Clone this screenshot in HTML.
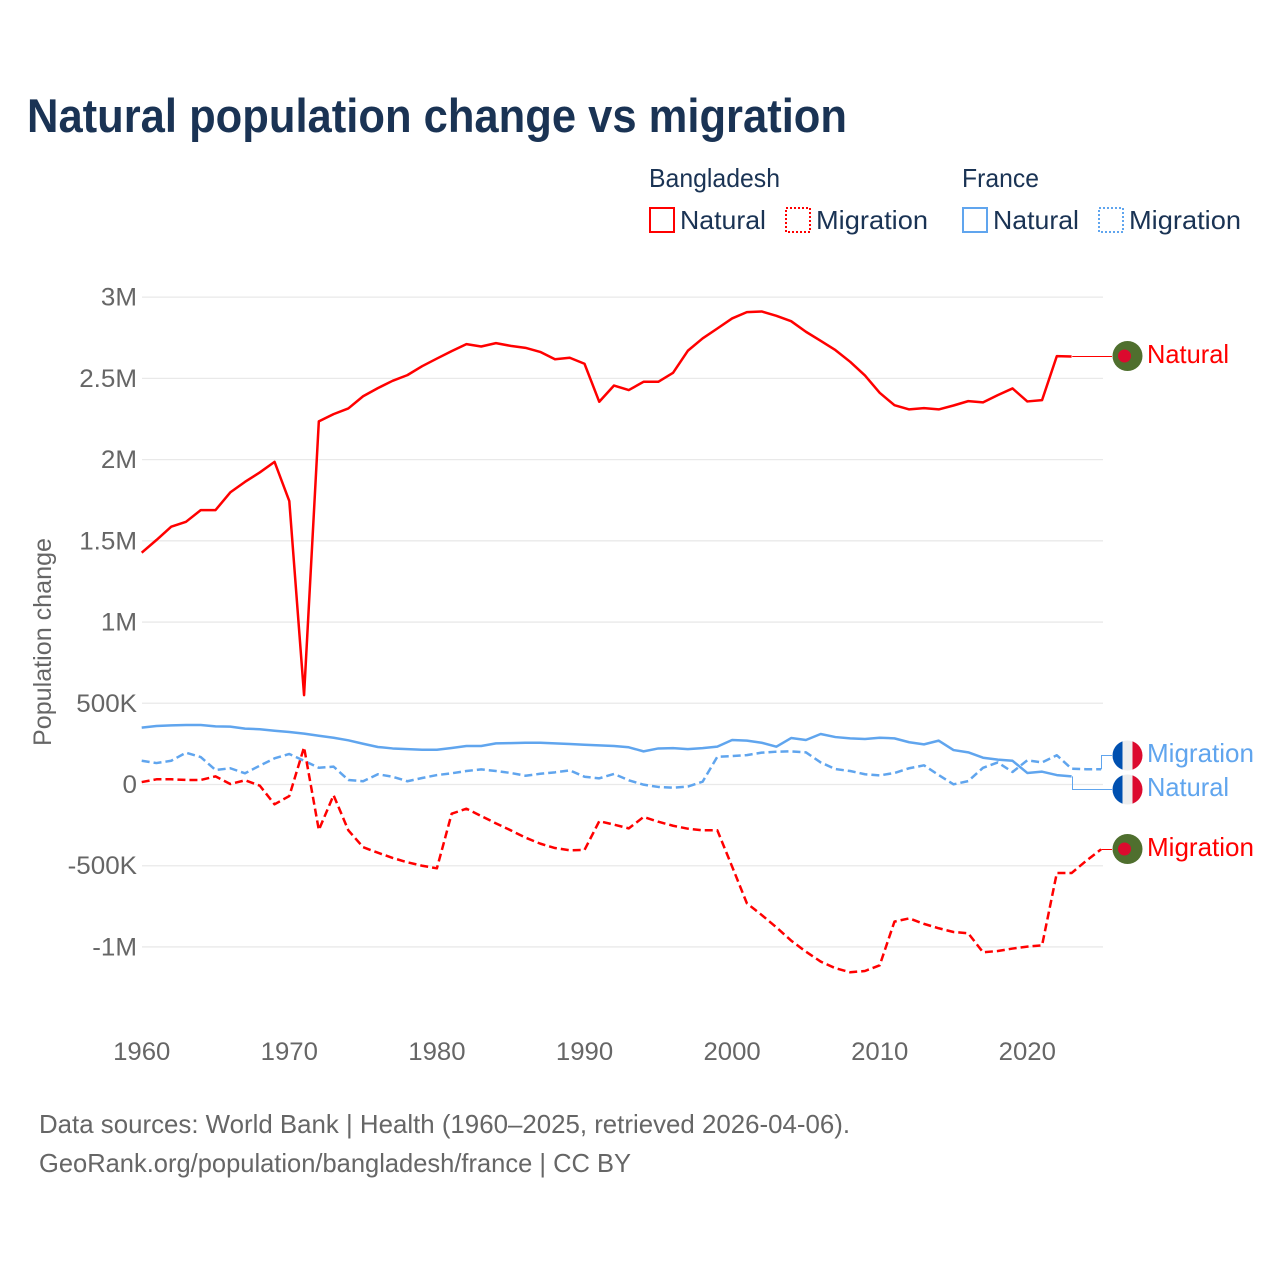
<!DOCTYPE html>
<html lang="en">
<head>
<meta charset="utf-8">
<title>Natural population change vs migration</title>
<style>
  html, body { margin: 0; padding: 0; background: #ffffff; }
  svg { display: block; font-family: "Liberation Sans", sans-serif; }
  .tick { fill: #666666; font-size: 25px; }
  .legend { fill: #1a3354; font-size: 26px; }
  .source { fill: #666666; font-size: 26px; }
  .end-label { font-size: 26px; }
</style>
</head>
<body>
<svg id="chart" width="1280" height="1280" viewBox="0 0 1280 1280" xmlns="http://www.w3.org/2000/svg">
  <rect x="0" y="0" width="1280" height="1280" fill="#ffffff"/>
  <text x="27" y="132" font-size="47" font-weight="700" fill="#1a3354" textLength="820" lengthAdjust="spacingAndGlyphs">Natural population change vs migration</text>

  <g>
    <text class="legend" x="649" y="187" textLength="131" lengthAdjust="spacingAndGlyphs">Bangladesh</text>
    <text class="legend" x="962" y="187" textLength="77" lengthAdjust="spacingAndGlyphs">France</text>

    <rect x="650" y="208" width="24" height="24" fill="none" stroke="#ff0000" stroke-width="2"/>
    <text class="legend" x="680" y="229" textLength="86" lengthAdjust="spacingAndGlyphs">Natural</text>
    <rect x="786" y="208" width="24" height="24" fill="none" stroke="#ff0000" stroke-width="2" stroke-dasharray="2 2"/>
    <text class="legend" x="816" y="229" textLength="112" lengthAdjust="spacingAndGlyphs">Migration</text>

    <rect x="963" y="208" width="24" height="24" fill="none" stroke="#60a5ee" stroke-width="2"/>
    <text class="legend" x="993" y="229" textLength="86" lengthAdjust="spacingAndGlyphs">Natural</text>
    <rect x="1099" y="208" width="24" height="24" fill="none" stroke="#60a5ee" stroke-width="2" stroke-dasharray="2 2"/>
    <text class="legend" x="1129" y="229" textLength="112" lengthAdjust="spacingAndGlyphs">Migration</text>
  </g>

  <text transform="translate(51,642) rotate(-90)" text-anchor="middle" font-size="25" fill="#666666" textLength="208" lengthAdjust="spacingAndGlyphs">Population change</text>

  <g id="grid"></g>
  <g id="y-ticks"></g>
  <g id="x-ticks"></g>
  <g id="series"></g>
  <g id="connectors"></g>

  <defs>
    <clipPath id="flag-clip-fr-migration"><circle cx="1127.5" cy="755.5" r="15"/></clipPath>
    <clipPath id="flag-clip-fr-natural"><circle cx="1127.5" cy="789.5" r="15"/></clipPath>
  </defs>

  <g>
    <circle cx="1127.5" cy="356" r="15" fill="#4f6f2e"/>
    <circle cx="1124.5" cy="356" r="6.5" fill="#dc0a2e"/>
  </g>
  <g clip-path="url(#flag-clip-fr-migration)">
    <rect x="1112" y="740" width="10.5" height="31" fill="#0050b0"/>
    <rect x="1122.5" y="740" width="10" height="31" fill="#eeeeee"/>
    <rect x="1132.5" y="740" width="10.5" height="31" fill="#dc0a2e"/>
  </g>
  <g clip-path="url(#flag-clip-fr-natural)">
    <rect x="1112" y="774" width="10.5" height="31" fill="#0050b0"/>
    <rect x="1122.5" y="774" width="10" height="31" fill="#eeeeee"/>
    <rect x="1132.5" y="774" width="10.5" height="31" fill="#dc0a2e"/>
  </g>
  <g>
    <circle cx="1127.5" cy="849" r="15" fill="#4f6f2e"/>
    <circle cx="1124.5" cy="849" r="6.5" fill="#dc0a2e"/>
  </g>

  <text class="end-label" x="1147" y="363" fill="#ff0000" textLength="82" lengthAdjust="spacingAndGlyphs">Natural</text>
  <text class="end-label" x="1147" y="762" fill="#60a5ee" textLength="107" lengthAdjust="spacingAndGlyphs">Migration</text>
  <text class="end-label" x="1147" y="796" fill="#60a5ee" textLength="82" lengthAdjust="spacingAndGlyphs">Natural</text>
  <text class="end-label" x="1147" y="856" fill="#ff0000" textLength="107" lengthAdjust="spacingAndGlyphs">Migration</text>

  <text class="source" x="39" y="1133" textLength="811" lengthAdjust="spacingAndGlyphs">Data sources: World Bank | Health (1960–2025, retrieved 2026-04-06).</text>
  <text class="source" x="39" y="1172" textLength="592" lengthAdjust="spacingAndGlyphs">GeoRank.org/population/bangladesh/france | CC BY</text>
</svg>

<script>
// Chart data (population change per year, in millions; series start at 1960)
const startYear = 1960;
const xTickYears = [1960, 1970, 1980, 1990, 2000, 2010, 2020];
const yTickValues = [3, 2.5, 2, 1.5, 1, 0.5, 0, -0.5, -1];
const yTickLabels = ['3M', '2.5M', '2M', '1.5M', '1M', '500K', '0', '-500K', '-1M'];

const bangladeshNatural = [
  1.427, 1.505, 1.587, 1.617, 1.689, 1.689, 1.798, 1.863, 1.921, 1.986,
  1.745, 0.55, 2.235, 2.28, 2.315, 2.39, 2.44, 2.485, 2.52, 2.575,
  2.622, 2.668, 2.711, 2.696, 2.717, 2.70, 2.688, 2.663, 2.618, 2.627,
  2.59, 2.356, 2.456, 2.428, 2.479, 2.479, 2.534, 2.67, 2.746, 2.807,
  2.869, 2.908, 2.912, 2.885, 2.852, 2.787, 2.731, 2.674, 2.602, 2.518,
  2.411, 2.335, 2.309, 2.317, 2.309, 2.333, 2.36, 2.352, 2.397, 2.438,
  2.358, 2.366, 2.637, 2.635
];
const bangladeshMigration = [
  0.015, 0.032, 0.032, 0.028, 0.028, 0.05, 0.003, 0.026, -0.007, -0.122,
  -0.071, 0.229, -0.28, -0.066, -0.282, -0.386, -0.42, -0.452, -0.479, -0.50,
  -0.516, -0.18, -0.149, -0.194, -0.239, -0.282, -0.327, -0.364, -0.391, -0.405,
  -0.403, -0.226, -0.247, -0.27, -0.20, -0.229, -0.254, -0.272, -0.282, -0.282,
  -0.505, -0.731, -0.803, -0.879, -0.961, -1.029, -1.09, -1.131, -1.156, -1.148,
  -1.113, -0.844, -0.824, -0.858, -0.885, -0.908, -0.916, -1.033, -1.025, -1.01,
  -0.998, -0.99, -0.545, -0.545, -0.469, -0.399
];
const franceNatural = [
  0.35, 0.36, 0.364, 0.366, 0.366, 0.358, 0.356, 0.344, 0.34, 0.331,
  0.323, 0.313, 0.30, 0.288, 0.272, 0.251, 0.231, 0.222, 0.218, 0.214,
  0.214, 0.225, 0.237, 0.237, 0.253, 0.255, 0.257, 0.257, 0.253, 0.249,
  0.245, 0.241, 0.237, 0.229, 0.204, 0.222, 0.224, 0.218, 0.224, 0.233,
  0.274, 0.27, 0.257, 0.233, 0.286, 0.274, 0.311, 0.292, 0.284, 0.28,
  0.288, 0.284, 0.26, 0.247, 0.27, 0.212, 0.198, 0.165, 0.153, 0.146,
  0.071, 0.079, 0.058, 0.05
];
const franceMigration = [
  0.146, 0.132, 0.146, 0.196, 0.169, 0.089, 0.10, 0.069, 0.116, 0.161,
  0.188, 0.146, 0.103, 0.11, 0.028, 0.02, 0.063, 0.048, 0.02, 0.04,
  0.058, 0.069, 0.083, 0.093, 0.083, 0.071, 0.054, 0.066, 0.075, 0.087,
  0.048, 0.038, 0.065, 0.026, -0.001, -0.015, -0.02, -0.013, 0.017, 0.171,
  0.175, 0.181, 0.196, 0.202, 0.204, 0.198, 0.136, 0.095, 0.083, 0.063,
  0.056, 0.071, 0.10, 0.118, 0.058, 0.001, 0.021, 0.103, 0.136, 0.077,
  0.149, 0.136, 0.18, 0.097, 0.094, 0.094
];

const SVG_NS = 'http://www.w3.org/2000/svg';
const RED = '#ff0000';
const BLUE = '#60a5ee';

function xScale(year) { return 141.7 + (year - 1960) * 14.76; }
function yScale(value) { return 784.5 - value * 162.45; }

function make(tag, parent) {
  const el = document.createElementNS(SVG_NS, tag);
  parent.appendChild(el);
  return el;
}

// Gridlines and y-axis tick labels
const gridGroup = document.getElementById('grid');
const yTickGroup = document.getElementById('y-ticks');
yTickValues.forEach(function (value, i) {
  const line = make('line', gridGroup);
  
  
  line.setAttribute('x1', 142);
  line.setAttribute('x2', 1103);
  line.setAttribute('y1', yScale(value));
  line.setAttribute('y2', yScale(value));
  line.setAttribute('stroke', '#e9e9e9');
  line.setAttribute('stroke-width', '1.3');

  const label = make('text', yTickGroup);
  
  
  label.setAttribute('class', 'tick');
  label.setAttribute('text-anchor', 'end');
  label.setAttribute('transform', 'translate(137,' + (yScale(value) + 8.5) + ') scale(1.04,1)');
  label.textContent = yTickLabels[i];
});

// X-axis tick labels
const xTickGroup = document.getElementById('x-ticks');
xTickYears.forEach(function (year) {
  const label = make('text', xTickGroup);
  
  
  label.setAttribute('class', 'tick');
  label.setAttribute('text-anchor', 'middle');
  label.setAttribute('transform', 'translate(' + xScale(year) + ',1060) scale(1.03,1)');
  label.textContent = String(year);
});

// Series lines
function linePath(values) {
  return values.map(function (value, i) {
    return (i === 0 ? 'M' : 'L') + xScale(startYear + i).toFixed(2) + ' ' + yScale(value).toFixed(2);
  }).join(' ');
}

const seriesGroup = document.getElementById('series');

const lineFranceNatural = make('path', seriesGroup);


lineFranceNatural.setAttribute('d', linePath(franceNatural));
lineFranceNatural.setAttribute('fill', 'none');
lineFranceNatural.setAttribute('stroke', BLUE);
lineFranceNatural.setAttribute('stroke-width', '2.5');
lineFranceNatural.setAttribute('stroke-linejoin', 'round');

const lineFranceMigration = make('path', seriesGroup);


lineFranceMigration.setAttribute('d', linePath(franceMigration));
lineFranceMigration.setAttribute('fill', 'none');
lineFranceMigration.setAttribute('stroke', BLUE);
lineFranceMigration.setAttribute('stroke-width', '2.5');
lineFranceMigration.setAttribute('stroke-dasharray', '8 4');
lineFranceMigration.setAttribute('stroke-linejoin', 'round');

const lineBangladeshNatural = make('path', seriesGroup);


lineBangladeshNatural.setAttribute('d', linePath(bangladeshNatural));
lineBangladeshNatural.setAttribute('fill', 'none');
lineBangladeshNatural.setAttribute('stroke', RED);
lineBangladeshNatural.setAttribute('stroke-width', '2.5');
lineBangladeshNatural.setAttribute('stroke-linejoin', 'round');

const lineBangladeshMigration = make('path', seriesGroup);


lineBangladeshMigration.setAttribute('d', linePath(bangladeshMigration));
lineBangladeshMigration.setAttribute('fill', 'none');
lineBangladeshMigration.setAttribute('stroke', RED);
lineBangladeshMigration.setAttribute('stroke-width', '2.5');
lineBangladeshMigration.setAttribute('stroke-dasharray', '8 4');
lineBangladeshMigration.setAttribute('stroke-linejoin', 'round');

// Thin stepped connectors from each series end to its end label
function connectorPath(values, labelY) {
  const endX = Math.round(xScale(startYear + values.length - 1)) + 0.5;
  const endY = yScale(values[values.length - 1]);
  return 'M' + endX + ' ' + endY.toFixed(2) +
    ' L' + endX + ' ' + labelY + ' L1112 ' + labelY;
}

const connectorGroup = document.getElementById('connectors');

const connectorA = make('path', connectorGroup);


connectorA.setAttribute('d', connectorPath(bangladeshNatural, 356.5));
connectorA.setAttribute('fill', 'none');
connectorA.setAttribute('stroke', RED);
connectorA.setAttribute('stroke-width', '1');

const connectorB = make('path', connectorGroup);


connectorB.setAttribute('d', connectorPath(franceMigration, 755.5));
connectorB.setAttribute('fill', 'none');
connectorB.setAttribute('stroke', BLUE);
connectorB.setAttribute('stroke-width', '1');

const connectorC = make('path', connectorGroup);


connectorC.setAttribute('d', connectorPath(franceNatural, 789.5));
connectorC.setAttribute('fill', 'none');
connectorC.setAttribute('stroke', BLUE);
connectorC.setAttribute('stroke-width', '1');

const connectorD = make('path', connectorGroup);


connectorD.setAttribute('d', connectorPath(bangladeshMigration, 849.5));
connectorD.setAttribute('fill', 'none');
connectorD.setAttribute('stroke', RED);
connectorD.setAttribute('stroke-width', '1');
</script>
</body>
</html>
